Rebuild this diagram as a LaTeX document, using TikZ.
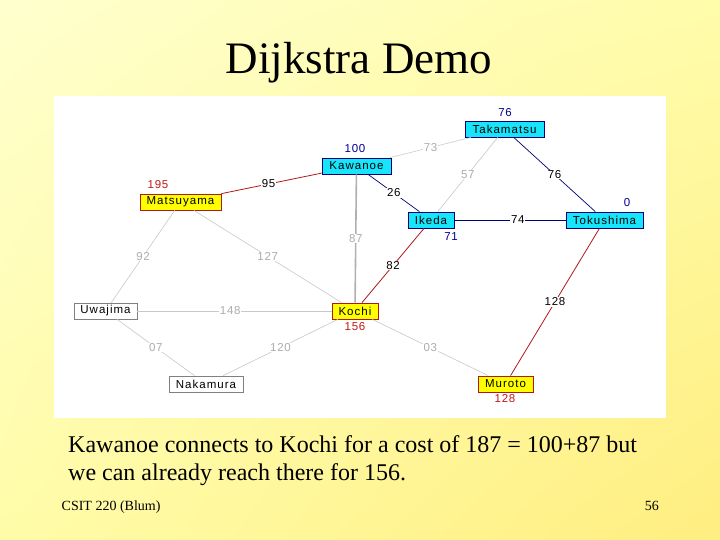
\documentclass[tikz,border=0pt]{standalone}
\usepackage{fontspec}
\setmainfont{Liberation Serif}
\newfontfamily\gfont[LetterSpace=9]{Liberation Sans}
\newfontfamily\lfont[LetterSpace=6]{Liberation Sans}
\usetikzlibrary{calc,shadings}
\definecolor{bgUL}{RGB}{255,255,206}
\definecolor{bgUR}{RGB}{255,252,170}
\definecolor{bgLL}{RGB}{255,252,168}
\definecolor{bgLR}{RGB}{255,238,128}
\definecolor{cyanfill}{RGB}{24,228,250}
\definecolor{navy}{RGB}{0,0,120}
\definecolor{dkred}{RGB}{178,24,24}
\definecolor{ltgray}{RGB}{200,200,200}
\definecolor{midgray}{RGB}{176,176,176}
\definecolor{labgray}{RGB}{172,172,172}
\definecolor{yfill}{RGB}{255,255,0}
\definecolor{dblue}{RGB}{0,0,150}
\definecolor{dred}{RGB}{196,24,24}
\begin{document}
\begin{tikzpicture}[x=1pt,y=-1pt,
  city/.style={line width=0.8pt, minimum height=16pt, inner xsep=1pt, inner ysep=0pt,
    font=\gfont\fontsize{11.5}{12}\selectfont, text=black},
  cyancity/.style={city, draw=navy, fill=cyanfill},
  yelcity/.style={city, draw=dkred, fill=yfill},
  whitecity/.style={city, draw=gray, fill=white},
  redge/.style={draw=dkred, line width=0.8pt},
  bedge/.style={draw=navy, line width=0.7pt},
  gedge/.style={draw=ltgray, line width=0.6pt},
  gthick/.style={draw=midgray, line width=1.6pt},
  elab/.style={fill=white, inner sep=0.6pt, font=\lfont\fontsize{11.5}{12}\selectfont, text=black},
  elabg/.style={elab, text=labgray},
  dlabb/.style={inner sep=0pt, font=\lfont\fontsize{11.5}{12}\selectfont, text=dblue},
  dlabr/.style={inner sep=0pt, font=\lfont\fontsize{11.5}{12}\selectfont, text=dred}
]
\useasboundingbox (0,0) rectangle (720,540);
\shade[upper left=bgUL, upper right=bgUR, lower left=bgLL, lower right=bgLR] (0,0) rectangle (720,540);
\fill[white] (54,96.5) rectangle (665.5,417.5);

% title and texts
\node[anchor=base, inner sep=0pt, font=\fontsize{45}{50}\selectfont] (title) at (359,74) {Dijkstra Demo};
\node[anchor=base west, inner sep=0pt, font=\fontsize{24}{28}\selectfont] (cap1) at (68,452) {Kawanoe connects to Kochi for a cost of 187 = 100+87 but};
\node[anchor=base west, inner sep=0pt, font=\fontsize{24}{28}\selectfont] (cap2) at (68,480) {we can already reach there for 156.};
\node[anchor=base west, inner sep=0pt, font=\fontsize{14}{16}\selectfont] (foot) at (61.5,510) {CSIT 220 (Blum)};
\node[anchor=base east, inner sep=0pt, font=\fontsize{14}{16}\selectfont] (page) at (659,510) {56};

% cities
\node[cyancity, minimum width=79pt] (tak) at (504.5,129) {Takamatsu};
\node[cyancity, minimum width=69pt] (kaw) at (356.5,166) {Kawanoe};
\node[yelcity, minimum width=81pt] (mat) at (180.5,202) {Matsuyama};
\node[cyancity, minimum width=46pt] (ike) at (431,220) {Ikeda};
\node[cyancity, minimum width=77pt] (tok) at (604.5,220) {Tokushima};
\node[whitecity, minimum width=63pt] (uwa) at (105.5,311) {Uwajima};
\node[yelcity, minimum width=46pt] (koc) at (355,311) {Kochi};
\node[whitecity, minimum width=74pt] (nak) at (206,384) {Nakamura};
\node[yelcity, minimum width=55pt] (mur) at (505.5,384) {Muroto};

% edges
\draw[gedge] (kaw) -- (tak);
\draw[gedge] (tak) -- (ike);
\draw[gedge] (mat) -- (uwa);
\draw[gedge] (mat) -- (koc);
\draw[gedge] (uwa) -- (koc);
\draw[gedge] (uwa) -- (nak);
\draw[gedge] (nak) -- (koc);
\draw[gedge] (koc) -- (mur);
\draw[gthick] (kaw) -- (koc);
\draw[redge] (mat) -- (kaw);
\draw[redge] (ike) -- (koc);
\draw[redge] (tok) -- (mur);
\draw[bedge] (kaw) -- (ike);
\draw[bedge] (tak) -- (tok);
\draw[bedge] (ike) -- (tok);

% edge labels
\node[elab] (e95) at ($(mat)!.5!(kaw)$) {95};
\node[elabg] (e73) at ($(kaw)!.5!(tak)$) {73};
\node[elabg] (e57) at ($(tak)!.5!(ike)$) {57};
\node[elab] (e76) at ($(tak)!.5!(tok)$) {76};
\node[elab] (e26) at ($(kaw)!.5!(ike)$) {26};
\node[elab] (e74) at ($(ike)!.5!(tok)$) {74};
\node[elabg] (e87) at ($(kaw)!.5!(koc)$) {87};
\node[elab] (e82) at ($(ike)!.5!(koc)$) {82};
\node[elab] (e128) at ($(tok)!.5!(mur)$) {128};
\node[elabg] (e92) at ($(mat)!.5!(uwa)$) {92};
\node[elabg] (e127) at ($(mat)!.5!(koc)$) {127};
\node[elabg] (e148) at ($(uwa)!.5!(koc)$) {148};
\node[elabg] (e07) at ($(uwa)!.5!(nak)$) {07};
\node[elabg] (e120) at ($(nak)!.5!(koc)$) {120};
\node[elabg] (e03) at ($(koc)!.5!(mur)$) {03};

% distance labels
\node[dlabb] (dtak) at (505,113) {76};
\node[dlabb] (dkaw) at (355,149) {100};
\node[dlabr] (dmat) at (158,185) {195};
\node[dlabb] (dtok) at (627,203) {0};
\node[dlabb] (dike) at (451,237) {71};
\node[dlabr] (dkoc) at (355,327) {156};
\node[dlabr] (dmur) at (505,399) {128};
\end{tikzpicture}
\end{document}
